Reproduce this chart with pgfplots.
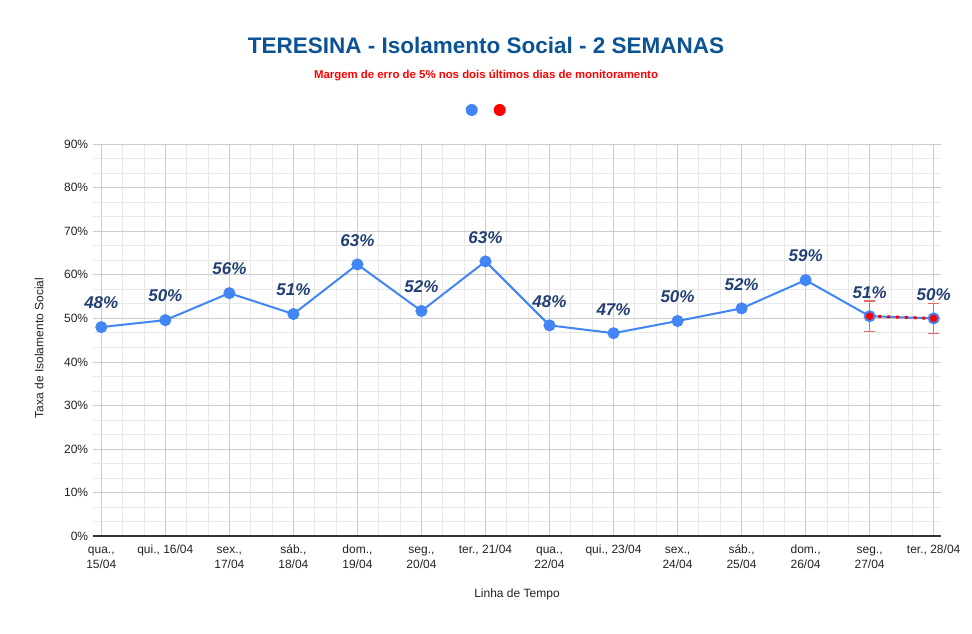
\documentclass[border=0pt]{standalone}
\usepackage{fontspec}
\setmainfont{Liberation Sans}
\usepackage{pgfplots}
\usepackage{pgfplotstable}
\pgfplotsset{compat=1.18}
\definecolor{blueC}{HTML}{4285F4}
\definecolor{labC}{HTML}{213F73}
\definecolor{titleC}{HTML}{0B5394}
\definecolor{errC}{HTML}{E46A6A}
\definecolor{gridM}{HTML}{CCCCCC}
\definecolor{gridm}{HTML}{E8E8E8}
\definecolor{tickC}{HTML}{222222}
\definecolor{axisC}{HTML}{333333}
\pgfplotstableread{
x y lab
0 48.0 48
1 49.6 50
2 55.8 56
3 51.0 51
4 62.4 63
5 51.7 52
6 63.1 63
7 48.4 48
8 46.6 47
9 49.4 50
10 52.3 52
11 58.8 59
12 50.5 51
13 50.0 50
}\datatab
\pgfplotstableread{
x y
12 50.5
13 50.0
}\redtab
\begin{document}
\begin{tikzpicture}
\useasboundingbox (0,0) rectangle (972bp,634bp);
\node[anchor=base, font=\fontsize{22.5bp}{27bp}\selectfont\bfseries, text=titleC, inner sep=0pt] at (486bp,580bp) {TERESINA - Isolamento Social - 2 SEMANAS};
\node[anchor=base, font=\fontsize{11.4bp}{13bp}\selectfont\bfseries, text=red, inner sep=0pt] at (486bp,555.7bp) {Margem de erro de 5\% nos dois últimos dias de monitoramento};
\begin{axis}[
  at={(93.3bp,98bp)}, anchor=south west,
  scale only axis, width=847.4bp, height=391.7bp,
  xmin=-0.125, xmax=13.11, ymin=0, ymax=90,
  xtick={0,...,13},
  xticklabels={{qua.,\\15/04},{qui., 16/04},{sex.,\\17/04},{sáb.,\\18/04},{dom.,\\19/04},{seg.,\\20/04},{ter., 21/04},{qua.,\\22/04},{qui., 23/04},{sex.,\\24/04},{sáb.,\\25/04},{dom.,\\26/04},{seg.,\\27/04},{ter., 28/04}},
  ytick={0,10,...,90},
  minor x tick num=2, minor y tick num=2,
  grid=both,
  major grid style={color=gridM, line width=0.8bp},
  minor grid style={color=gridm, line width=0.8bp},
  axis line style={draw=none},
  major tick length=0pt, minor tick length=0pt,
  tick label style={font=\fontsize{12bp}{14bp}\selectfont, text=tickC},
  /pgf/number format/assume math mode=true,
  typeset ticklabels with strut,
  yticklabel={\pgfmathprintnumber{\tick}\%},
  xticklabel style={align=center, anchor=north, inner sep=0pt, yshift=-7.5bp, font=\fontsize{12bp}{14.5bp}\selectfont},
  yticklabel style={anchor=east, inner sep=0pt, xshift=-5bp},
  xlabel={Linha de Tempo}, ylabel={Taxa de Isolamento Social},
  label style={font=\fontsize{12bp}{14bp}\selectfont, text=tickC},
  xlabel style={at={(rel axis cs:0.5,-0.148)}, anchor=center},
  ylabel style={at={(rel axis cs:-0.0641,0.48)}, anchor=center},
  legend style={at={(0.4681,1.0876)}, anchor=center, draw=none, fill=none, legend columns=2, column sep=7.5bp, nodes={inner sep=0pt, outer sep=0pt}, inner sep=0pt, outer sep=0pt},
  clip=false,
]
\draw[color=axisC, line width=1.2bp] (rel axis cs:0,0) -- (rel axis cs:1,0);
\addplot[color=blueC, line width=2bp, mark=*, mark size=5bp,
  mark options={fill=blueC, draw=none},
  legend image code/.code={\path[fill=blueC, draw=none] (0bp,0bp) circle (6bp);},
  nodes near coords={\pgfplotspointmeta\%}, point meta=explicit symbolic,
  every node near coord/.append style={font=\fontsize{17bp}{20bp}\selectfont\bfseries\itshape, text=labC, anchor=center, yshift=24bp, inner sep=0pt}]
  table[x=x, y=y, meta=lab] {\datatab};
\addlegendentry{}
% error bars (+/- margin) for the last two days
\addplot[forget plot, color=errC, line width=1.4bp, mark=-, mark size=5.5bp, mark options={solid}]
  coordinates {(12,47.0) (12,54.0)};
\addplot[forget plot, color=errC, line width=1.4bp, mark=-, mark size=5.5bp, mark options={solid}]
  coordinates {(13,46.55) (13,53.45)};
\addplot[color=red, line width=3bp, dash pattern=on 3bp off 5.8bp, mark=*, mark size=2.2bp,
  mark options={solid, fill=red, draw=none},
  legend image code/.code={\path[fill=red, draw=none, solid] (0bp,0bp) circle (6bp);}]
  table[x=x, y=y] {\redtab};
\addlegendentry{}
\end{axis}
\end{tikzpicture}
\end{document}
